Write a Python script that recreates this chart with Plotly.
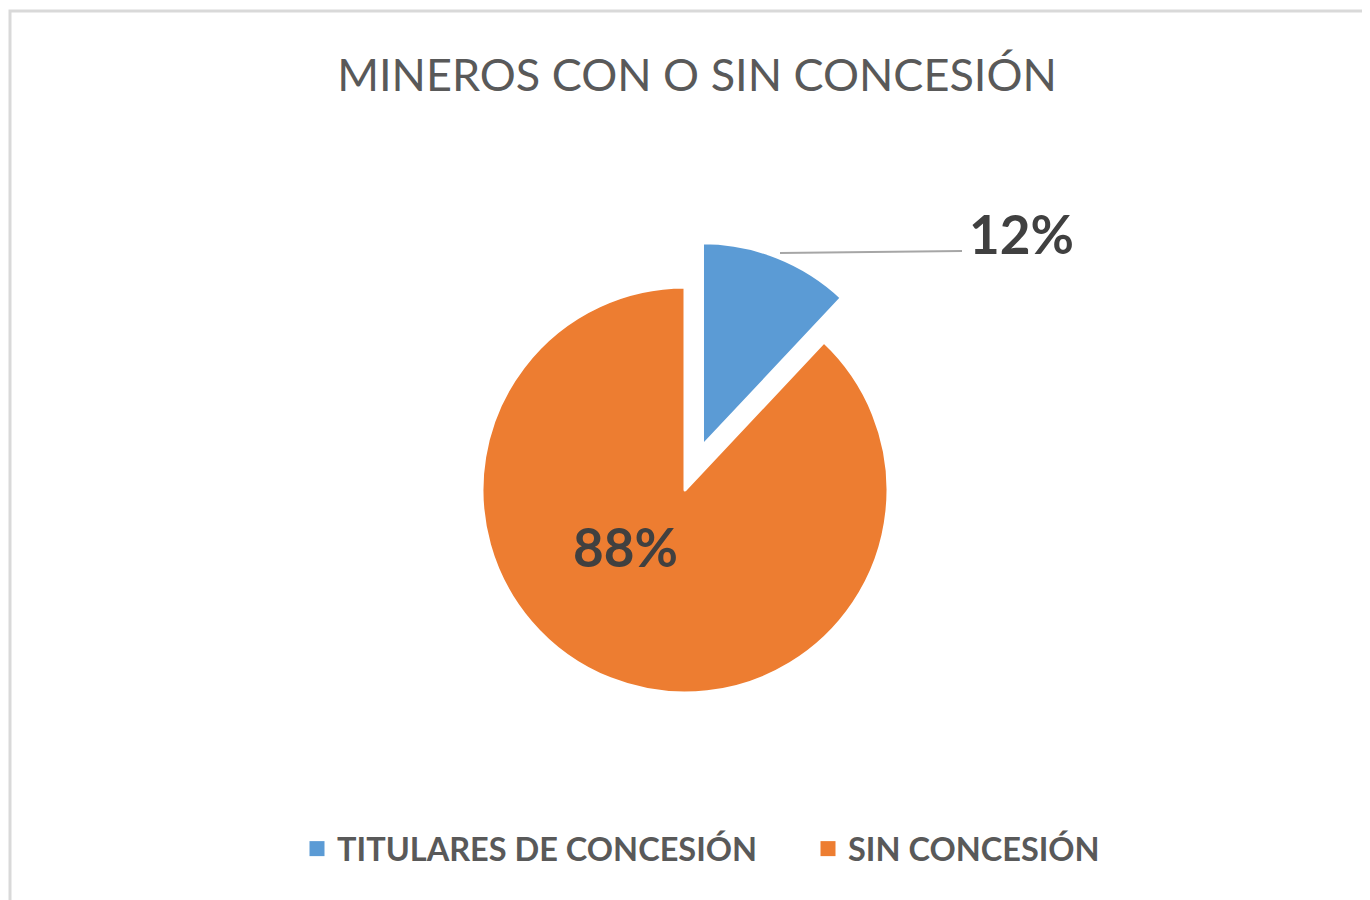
import plotly.graph_objects as go

# Data
categories = ["TITULARES DE CONCESIÓN", "SIN CONCESIÓN"]
values = [12, 88]
colors = ["#5B9BD5", "#ED7D31"]
title_text = "MINEROS CON O SIN CONCESIÓN"

W, H = 1370, 900
OFF = 8  # page body margin offset
total = sum(values)
pct = [f"{v / total:.0%}" for v in values]

def px(x):
    return (x - OFF) / W

def py(y):
    return 1 - (y - OFF) / H

cx, cy, half = 685, 490, 250.5

fig = go.Figure()
fig.add_trace(
    go.Pie(
        labels=categories,
        values=values,
        sort=False,
        direction="clockwise",
        rotation=0,
        pull=[0.234, 0],
        marker=dict(colors=colors, line=dict(color="white", width=3)),
        textinfo="none",
        hoverinfo="label+percent",
        showlegend=False,
        domain=dict(x=[px(cx - half), px(cx + half)], y=[py(cy + half), py(cy - half)]),
    )
)
# legend entries (square swatches)
for name, col in zip(categories, colors):
    fig.add_trace(
        go.Scatter(
            x=[None], y=[None], mode="markers", name=name,
            marker=dict(symbol="square", size=15, color=col),
            showlegend=True, hoverinfo="skip",
        )
    )

font_family = "Lato, 'Open Sans', sans-serif"

fig.update_layout(
    width=W,
    height=H,
    margin=dict(l=0, r=0, t=0, b=0),
    paper_bgcolor="white",
    plot_bgcolor="white",
    xaxis=dict(visible=False),
    yaxis=dict(visible=False),
    title=dict(
        text=title_text,
        x=px(697),
        xanchor="center",
        y=py(75),
        yanchor="middle",
        font=dict(family=font_family, size=45, color="#595959"),
    ),
    showlegend=True,
    legend=dict(
        orientation="h",
        x=px(808),
        xanchor="center",
        y=py(849),
        yanchor="middle",
        font=dict(family=font_family, size=32.5, color="#595959", weight="bold"),
        entrywidth=466,
        bgcolor="rgba(0,0,0,0)",
    ),
    annotations=[
        dict(
            x=px(1021), y=py(234), xref="paper", yref="paper",
            text=pct[0], showarrow=False,
            font=dict(family=font_family, size=53, color="#404040", weight="bold"),
            xanchor="center", yanchor="middle",
        ),
        dict(
            x=px(625), y=py(546), xref="paper", yref="paper",
            text=pct[1], showarrow=False,
            font=dict(family=font_family, size=53, color="#404040", weight="bold"),
            xanchor="center", yanchor="middle",
        ),
    ],
    shapes=[
        dict(
            type="rect", xref="paper", yref="paper",
            x0=px(10), y0=-0.05, x1=1.05, y1=py(11),
            line=dict(color="#D9D9D9", width=3),
            fillcolor="rgba(0,0,0,0)", layer="below",
        ),
        dict(
            type="line", xref="paper", yref="paper",
            x0=px(780), y0=py(253), x1=px(962), y1=py(251),
            line=dict(color="#A6A6A6", width=2),
        ),
    ],
)

fig.write_html("out.html")
